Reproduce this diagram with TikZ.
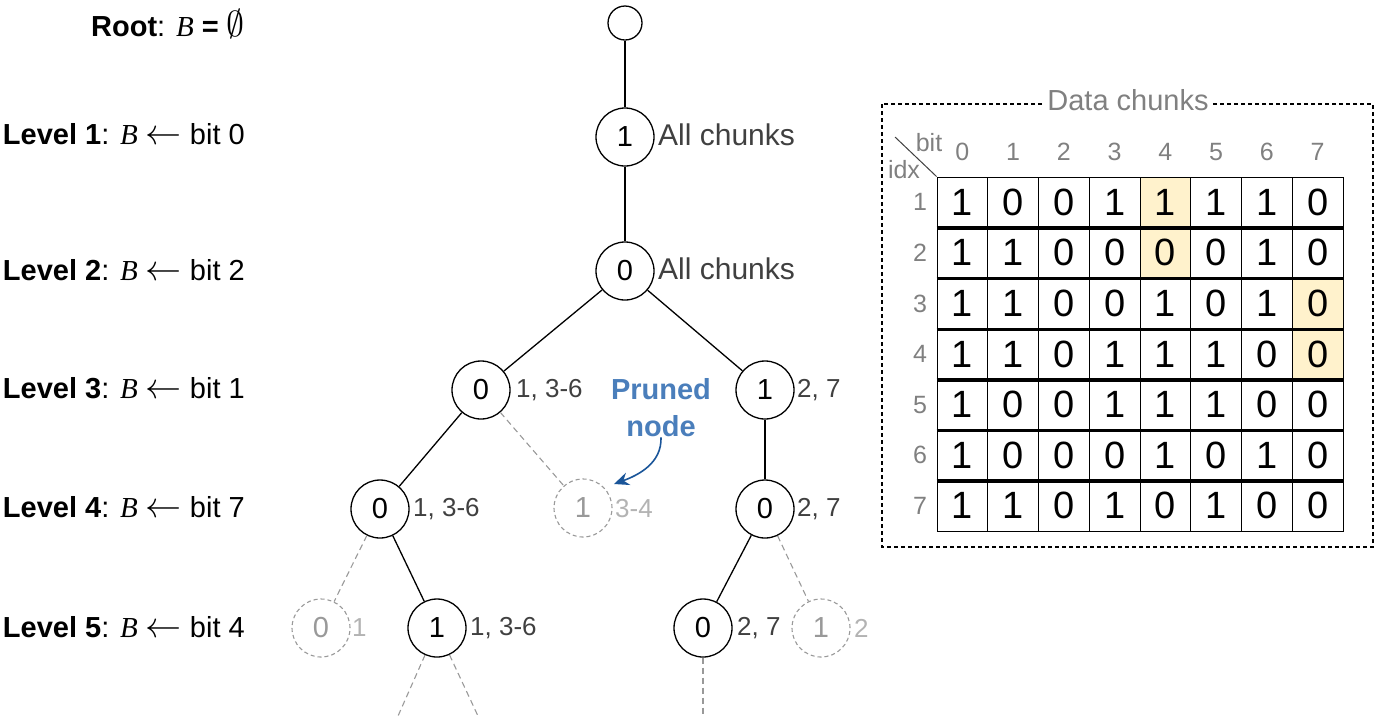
\documentclass[tikz,border=0pt]{standalone}
\usepackage{graphicx}
\usepackage{fontspec}
\setmainfont{Liberation Sans}
\newfontfamily\tnr{Liberation Serif}
\usetikzlibrary{arrows.meta}
\definecolor{lblgray}{HTML}{404040}
\definecolor{pgray}{HTML}{999999}
\definecolor{plgray}{HTML}{B3B3B3}
\definecolor{hgray}{HTML}{808080}
\definecolor{hl}{HTML}{FFF2CC}
\definecolor{pblue}{HTML}{4A7EBB}
\definecolor{ablue}{HTML}{1A5599}
\newcommand\fsz[1]{\fontsize{#1}{#1}\selectfont}
\newcommand\Bv{{\tnr\itshape B}}
\newcommand\larr{\scalebox{1.45}{$\leftarrow$}}
\newcommand\emp{\scalebox{1.45}{$\emptyset$}}
\begin{document}
\begin{tikzpicture}[x=1pt,y=-1pt,
  tnode/.style={circle,draw,line width=1.3pt,minimum size=58pt,inner sep=0pt,font=\fsz{29}},
  pnode/.style={circle,draw=pgray,dash pattern=on 4pt off 3pt,line width=1.1pt,minimum size=58pt,inner sep=0pt,text=pgray,font=\fsz{29}},
  tedge/.style={line width=1.3pt},
  pedge/.style={draw=pgray,dash pattern=on 6pt off 4pt,line width=1.1pt},
  tlbl/.style={anchor=west,inner sep=0pt,text=lblgray,font=\fsz{26}},
  plbl/.style={anchor=west,inner sep=0pt,text=plgray,font=\fsz{26}},
  lvl/.style={anchor=east,inner sep=0pt,font=\fsz{29}},
  cell/.style={draw,line width=1pt,minimum width=50.75pt,minimum height=50.6pt,inner sep=0pt,font=\fsz{38}},
  hdr/.style={inner sep=0pt,text=hgray,font=\fsz{25}},
]
\useasboundingbox (0,0) rectangle (1380,716);

% level labels
\node[lvl] (lr) at (245,24) {\textbf{Root}: \Bv\ \textbf{=} \emp};
\node[lvl] (l1) at (245,134) {\textbf{Level 1}: \Bv\ \larr\ bit 0};
\node[lvl] (l2) at (245,270) {\textbf{Level 2}: \Bv\ \larr\ bit 2};
\node[lvl] (l3) at (245,388) {\textbf{Level 3}: \Bv\ \larr\ bit 1};
\node[lvl] (l4) at (245,507) {\textbf{Level 4}: \Bv\ \larr\ bit 7};
\node[lvl] (l5) at (245,627) {\textbf{Level 5}: \Bv\ \larr\ bit 4};

% tree nodes
\node[tnode,minimum size=34pt] (r) at (625,23) {};
\node[tnode] (a) at (625,137) {1};
\node[tnode] (b) at (625,271) {0};
\node[tnode] (c1) at (481,390) {0};
\node[tnode] (c2) at (765,390) {1};
\node[tnode] (d1) at (380,509) {0};
\node[pnode] (d2) at (583,508) {1};
\node[tnode] (d3) at (765,509) {0};
\node[pnode] (e1) at (321,628) {0};
\node[tnode] (e2) at (437,628) {1};
\node[tnode] (e3) at (703,628) {0};
\node[pnode] (e4) at (821,628) {1};

% tree labels
\node[tlbl,font=\fsz{30}] (ta) at (658,135) {All chunks};
\node[tlbl,font=\fsz{30}] (tb) at (658,269) {All chunks};
\node[tlbl] (tc1) at (516,390) {1, 3-6};
\node[tlbl] (tc2) at (797,390) {2, 7};
\node[tlbl] (td1) at (413,509) {1, 3-6};
\node[plbl] (td2) at (615,509) {3-4};
\node[tlbl] (td3) at (797,509) {2, 7};
\node[plbl] (te1) at (352,628) {1};
\node[tlbl] (te2) at (470,628) {1, 3-6};
\node[tlbl] (te3) at (737,628) {2, 7};
\node[plbl] (te4) at (854,628) {2};

% edges
\draw[tedge] (r) -- (a);
\draw[tedge] (a) -- (b);
\draw[tedge] (b) -- (c1);
\draw[tedge] (b) -- (c2);
\draw[tedge] (c1) -- (d1);
\draw[tedge] (c2) -- (d3);
\draw[tedge] (d1) -- (e2);
\draw[tedge] (d3) -- (e3);
\draw[pedge] (c1) -- (d2);
\draw[pedge] (d1) -- (e1);
\draw[pedge] (d3) -- (e4);
\coordinate (f1) at (398,716);
\coordinate (f2) at (478,716);
\coordinate (f3) at (703,716);
\draw[pedge] (e2) -- (f1);
\draw[pedge] (e2) -- (f2);
\draw[pedge] (e3) -- (f3);

% pruned annotation
\node[align=center,text=pblue,font=\bfseries\fontsize{29}{37}\selectfont,inner sep=0pt] (pn) at (661,408) {Pruned\\node};
\coordinate (pa) at (614,484);
\draw[-{Stealth[length=15pt,width=13pt,inset=5pt]},ablue,line width=1.6pt] (pn.south) to[out=-88,in=20] (pa);

% data chunks box
\draw[dash pattern=on 4pt off 3pt,line width=1.2pt] (882,104) rectangle (1373,547);
\node[fill=white,inner sep=3pt,text=hgray,font=\fsz{29}] (dt) at (1128,100) {Data chunks};

% table
\foreach \r/\vals in {1/{1,0,0,1,1,1,1,0},2/{1,1,0,0,0,0,1,0},3/{1,1,0,0,1,0,1,0},4/{1,1,0,1,1,1,0,0},5/{1,0,0,1,1,1,0,0},6/{1,0,0,0,1,0,1,0},7/{1,1,0,1,0,1,0,0}} {
  \foreach \v [count=\c from 0] in \vals {
    \node[cell] (c\r-\c) at ({962.4+50.75*\c},{202.3+50.6*(\r-1)}) {\v};
  }
  \node[hdr] (ri\r) at (920,{202.3+50.6*(\r-1)}) {\r};
}
\node[cell,fill=hl] at (c1-4) {1};
\node[cell,fill=hl] at (c2-4) {0};
\node[cell,fill=hl] at (c3-7) {0};
\node[cell,fill=hl] at (c4-7) {0};
\foreach \r in {1,...,6} {
  \draw[line width=3.5pt] (c\r-0.south west) -- (c\r-7.south east);
}
\foreach \c in {0,...,7} {
  \node[hdr] (h\c) at ({962.4+50.75*\c},152) {\c};
}
\coordinate (dg) at (895,137);
\draw[line width=1pt,draw=darkgray] (dg) -- (c1-0.north west);
\node[hdr] (hb) at (929,143) {bit};
\node[hdr] (hi) at (904,170) {idx};
\end{tikzpicture}
\end{document}
